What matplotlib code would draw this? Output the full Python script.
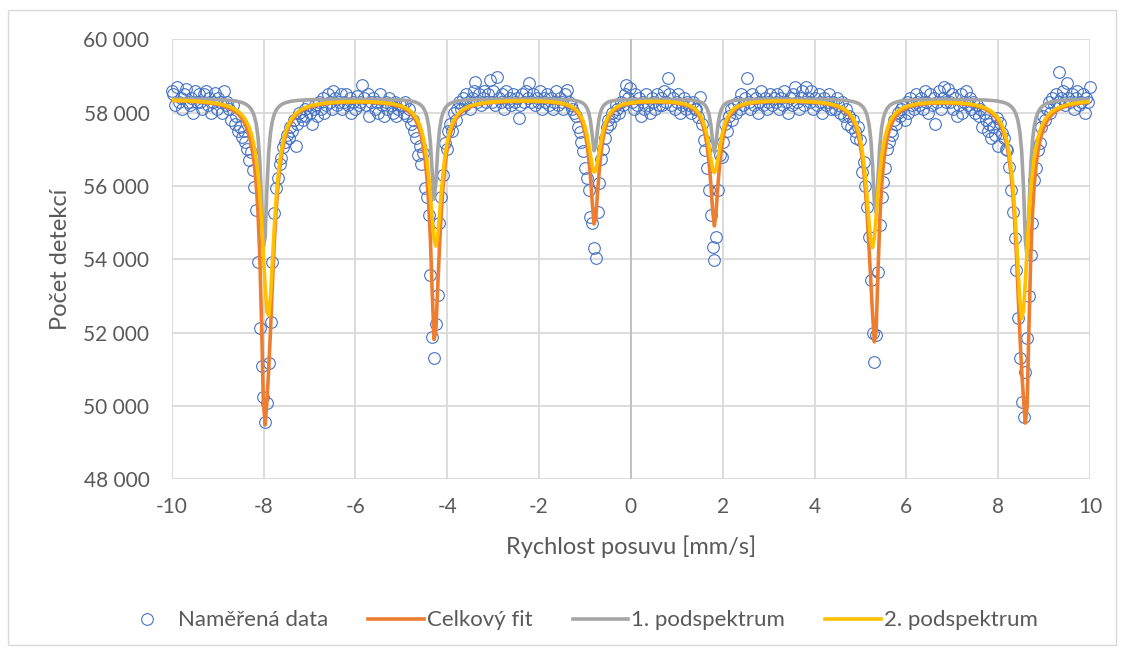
import numpy as np
import matplotlib
matplotlib.use("Agg")
import matplotlib.pyplot as plt
from matplotlib.lines import Line2D
from matplotlib.patches import Rectangle
from matplotlib.ticker import FuncFormatter, MultipleLocator

# ---------------- data ----------------
v_start, v_end = -10.0, 10.0   # velocity range of the channels [mm/s]

counts = [
    58600, 58500, 58200, 58700, 58300, 58400, 58100, 58500, 58650, 58300, 58200, 58400, 58000, 58600, 58300, 58500,
    58300, 58100, 58500, 58600, 58200, 58400, 58000, 58300, 58550, 58100, 58400, 58300, 58000, 58600, 58200, 58300,
    58100, 57800, 58200, 57700, 57900, 57500, 57600, 57350, 57500, 57200, 57000, 56700, 56940, 56440, 55980, 55350,
    53930, 52120, 51100, 50250, 49570, 50070, 51160, 52300, 53930, 55260, 55940, 56210, 56600, 56760, 57070, 57200,
    57400, 57300, 57600, 57500, 57800, 57100, 57700, 58000, 57900, 57800, 58100, 57900, 58200, 58000, 57700, 58100,
    58200, 57900, 58300, 58100, 58400, 58000, 58200, 58500, 58300, 58100, 58600, 58400, 58200, 58300, 58500, 58100,
    58300, 58500, 58200, 58400, 58000, 58300, 58100, 58450, 58200, 58300, 58750, 58400, 58200, 58500, 57900, 58300,
    58400, 58100, 58300, 58000, 58500, 58200, 57900, 58300, 58100, 58400, 58200, 58000, 58300, 57900, 58100, 58200,
    58200, 58000, 58300, 57900, 58100, 57700, 57800, 57500, 57300, 56850, 57100, 56600, 56890, 55940, 55700, 55210,
    53570, 51890, 51300, 52230, 53030, 54980, 55700, 56300, 57170, 57000, 57500, 57700, 57500, 58000, 57800, 58100,
    58300, 58100, 58400, 58200, 58500, 58300, 58100, 58400, 58600, 58850, 58300, 58500, 58200, 58400, 58600, 58300,
    58500, 58900, 58300, 58600, 58200, 58980, 58400, 58300, 58500, 58100, 58600, 58300, 58400, 58200, 58500, 58300,
    58400, 57850, 58200, 58500, 58300, 58600, 58400, 58800, 58300, 58500, 58200, 58400, 58300, 58600, 58100, 58400,
    58300, 58500, 58200, 58400, 58100, 58300, 58600, 58200, 58400, 58300, 58100, 58500, 58620, 58300, 58200, 58100,
    58000, 57900, 57620, 57480, 57210, 56950, 56480, 56210, 55900, 55160, 55000, 54300, 54030, 55300, 56070, 56750,
    57000, 57300, 57600, 57800, 57700, 58000, 57900, 58200, 58100, 58000, 58300, 58200, 58500, 58750, 58400, 58670,
    58300, 58100, 58500, 58200, 58400, 57900, 58300, 58100, 58500, 58200, 58000, 58400, 58300, 58100, 58500, 58200,
    58400, 58200, 58600, 58300, 58940, 58500, 58200, 58400, 58100, 58300, 58500, 58000, 58200, 58400, 58100, 58300,
    58200, 58000, 58300, 58100, 58100, 57890, 58440, 57700, 57260, 56980, 56500, 55890, 55210, 54340, 53980, 54620,
    55890, 56850, 56800, 57210, 57700, 57500, 57900, 58100, 57800, 58200, 58000, 58300, 58100, 58500, 58200, 58400,
    58950, 58300, 58100, 58500, 58200, 58400, 58000, 58300, 58600, 58200, 58400, 58100, 58300, 58500, 58200, 58400,
    58300, 58500, 58100, 58400, 58200, 58600, 58300, 58000, 58400, 58200, 58500, 58700, 58300, 58100, 58400, 58600,
    58200, 58700, 58400, 58300, 58600, 58100, 58400, 58200, 58500, 58300, 58000, 58400, 58200, 58300, 58500, 58100,
    58300, 58100, 58400, 58200, 58000, 58300, 57900, 58100, 57700, 57900, 57600, 57800, 57500, 57300, 57600, 57250,
    56390, 56660, 56000, 55440, 54620, 53440, 51980, 51210, 51940, 53660, 54940, 55700, 56120, 56480, 57000, 57210,
    57500, 57400, 57800, 57700, 58000, 57900, 58100, 58200, 57800, 58300, 58000, 58400, 58200, 58100, 58500, 58300,
    58200, 58400, 58100, 58600, 58300, 58000, 58500, 58200, 58400, 57700, 58300, 58600, 58100, 58400, 58700, 58300,
    58650, 58300, 58500, 58100, 58400, 57900, 58200, 58500, 58000, 58300, 58600, 58200, 58400, 58100, 58300, 58000,
    58200, 57900, 58100, 57600, 58000, 57800, 57500, 57700, 57300, 57600, 57400, 57850, 57100, 57710, 57440, 57300,
    57000, 56980, 56530, 55890, 55300, 54570, 53710, 52390, 51300, 50120, 49710, 50930, 51850, 53000, 54120, 54980,
    56160, 56500, 56980, 57170, 57600, 57900, 57800, 58100, 58300, 58000, 58400, 58200, 58500, 58300, 59100, 58400,
    58600, 58200, 58800, 58400, 58300, 58500, 58100, 58400, 58600, 58200, 58300, 58500, 58000, 58400, 58300, 58700,
]

# fitted Lorentzian sextets
baseline = 58380
sub1_pos = [-7.99, -4.28, -0.79, 1.82, 5.33, 8.62]
sub1_depth = [4200, 2750, 1450, 1450, 3200, 4400]
sub1_hwhm = 0.075
sub2_pos = [-7.90, -4.25, -0.79, 1.82, 5.26, 8.52]
sub2_depth = [5950, 4000, 1990, 1990, 4040, 5990]
sub2_hwhm = 0.16

labels = ["Naměřená data", "Celkový fit", "1. podspektrum", "2. podspektrum"]
x_label = "Rychlost posuvu [mm/s]"
y_label = "Počet detekcí"

# ---------------- derived ----------------
counts = np.array(counts, dtype=float)
v = np.linspace(v_start, v_end, len(counts))


def sextet(x, pos, depth, w):
    s = np.zeros_like(x)
    for p, d in zip(pos, depth):
        s += d / (1.0 + ((x - p) / w) ** 2)
    return s


d1 = sextet(v, sub1_pos, sub1_depth, sub1_hwhm)
d2 = sextet(v, sub2_pos, sub2_depth, sub2_hwhm)
fit1 = baseline - d1
fit2 = baseline - d2
total = baseline - d1 - d2

# ---------------- plot ----------------
FONT = ["Lato", "DejaVu Sans"]
plt.rcParams["font.family"] = FONT
plt.rcParams["axes.unicode_minus"] = False
TXT = "#595959"
GRID = "#D9D9D9"

fig = plt.figure(figsize=(11.24, 6.51), dpi=100)
fig.patches.append(Rectangle((8 / 1124, 6 / 651), 1108 / 1124, 635 / 651,
                             transform=fig.transFigure, fill=False,
                             edgecolor="#D9D9D9", linewidth=1.0))

ax = fig.add_axes([171.7 / 1124, 171.7 / 651, (1090 - 171.7) / 1124, (479.3 - 39.4) / 651])

ax.plot(v, counts, linestyle="none", marker="o", markersize=8.4,
        markerfacecolor="none", markeredgecolor="#4472C4", markeredgewidth=0.8,
        clip_on=False, zorder=3)
ax.plot(v, total, color="#ED7D31", linewidth=2.6, zorder=4, solid_joinstyle="round")
ax.plot(v, fit1, color="#A5A5A5", linewidth=2.6, zorder=5, solid_joinstyle="round")
ax.plot(v, fit2, color="#FFC000", linewidth=2.6, zorder=6, solid_joinstyle="round")

ax.set_xlim(-10, 10)
ax.set_ylim(48000, 60000)
ax.xaxis.set_major_locator(MultipleLocator(2))
ax.yaxis.set_major_locator(MultipleLocator(2000))
ax.yaxis.set_major_formatter(FuncFormatter(lambda y, _: f"{int(y):,}".replace(",", " ")))
ax.grid(True, color=GRID, linewidth=1.3, zorder=0)
ax.set_axisbelow(True)
for s in ax.spines.values():
    s.set_visible(False)
ax.axvline(0, color="#BFBFBF", linewidth=1.3, zorder=1)
ax.tick_params(axis="both", length=0, labelsize=15, colors=TXT)
ax.tick_params(axis="x", pad=13)
ax.tick_params(axis="y", pad=16)
ax.set_xlabel(x_label, fontsize=17, color=TXT, labelpad=13)
ax.set_ylabel(y_label, fontsize=17, color=TXT, labelpad=9)

handles = [
    Line2D([], [], linestyle="none", marker="o", markersize=8.4, markerfacecolor="none",
           markeredgecolor="#4472C4", markeredgewidth=0.8),
    Line2D([], [], color="#ED7D31", linewidth=2.6),
    Line2D([], [], color="#A5A5A5", linewidth=2.6),
    Line2D([], [], color="#FFC000", linewidth=2.6),
]
leg = fig.legend(handles, labels, loc="center", bbox_to_anchor=(0.5147, 0.047), ncol=4,
                 frameon=False, handlelength=2.5, columnspacing=1.8, handletextpad=0.15,
                 prop={"size": 16})
for t in leg.get_texts():
    t.set_color(TXT)

fig.savefig("out.png", dpi=100)
